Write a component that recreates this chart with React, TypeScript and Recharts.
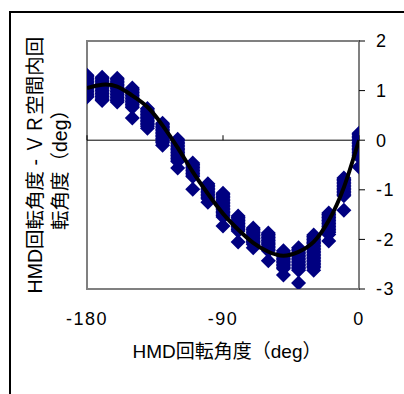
import React from "react";
import {
  ComposedChart,
  Scatter,
  Line,
  XAxis,
  YAxis,
  ReferenceArea,
  ReferenceLine,
} from "recharts";

// HMD rotation angle (deg) at which each batch of trials was measured
const clusterAngles = [
  -180, -170, -160, -150, -140, -130, -120, -110, -100, -90, -80, -70, -60,
  -50, -40, -30, -20, -10, 0,
];

// HMD rotation minus VR-space rotation (deg), one list per angle above
const clusterValues: number[][] = [
  [1.31, 1.28, 1.25, 1.22, 1.19, 1.16, 1.13, 1.1, 1.07, 1.04, 1.01, 0.98, 0.95, 0.92, 0.89, 0.87],
  [1.27, 1.24, 1.21, 1.18, 1.15, 1.12, 1.09, 1.06, 1.03, 1.0, 0.97, 0.94, 0.91, 0.88, 0.85, 0.82, 0.8],
  [1.25, 1.22, 1.19, 1.16, 1.13, 1.1, 1.07, 1.04, 1.01, 0.98, 0.95, 0.92, 0.89, 0.86, 0.83, 0.8, 0.77],
  [1.05, 1.02, 0.99, 0.96, 0.93, 0.9, 0.87, 0.84, 0.81, 0.78, 0.75, 0.72, 0.69, 0.66, 0.45],
  [0.64, 0.61, 0.58, 0.55, 0.52, 0.49, 0.46, 0.43, 0.4, 0.37, 0.34, 0.31, 0.28, 0.24],
  [0.34, 0.31, 0.28, 0.25, 0.22, 0.19, 0.16, 0.13, 0.1, 0.07, 0.04, 0.01, -0.02, -0.05, -0.1],
  [0.02, -0.01, -0.04, -0.07, -0.1, -0.13, -0.16, -0.19, -0.22, -0.25, -0.28, -0.31, -0.34, -0.37, -0.4, -0.43, -0.56],
  [-0.46, -0.49, -0.52, -0.55, -0.58, -0.61, -0.64, -0.67, -0.7, -0.73, -0.99],
  [-0.88, -0.91, -0.94, -0.97, -1.0, -1.03, -1.06, -1.09, -1.12, -1.15, -1.18, -1.25],
  [-1.07, -1.1, -1.13, -1.16, -1.19, -1.22, -1.25, -1.28, -1.31, -1.34, -1.37, -1.4, -1.43, -1.46, -1.49, -1.52, -1.55, -1.73],
  [-1.53, -1.56, -1.59, -1.62, -1.65, -1.68, -1.71, -1.74, -1.77, -1.8, -1.83, -2.05],
  [-1.77, -1.8, -1.83, -1.86, -1.89, -1.92, -1.95, -1.98, -2.01, -2.04, -2.07, -2.1, -2.17],
  [-1.87, -1.9, -1.93, -1.96, -1.99, -2.02, -2.05, -2.08, -2.11, -2.14, -2.17, -2.2, -2.23, -2.43],
  [-2.23, -2.26, -2.29, -2.32, -2.35, -2.38, -2.41, -2.44, -2.47, -2.5, -2.53, -2.56, -2.59, -2.72],
  [-2.17, -2.2, -2.23, -2.26, -2.29, -2.32, -2.35, -2.38, -2.41, -2.44, -2.47, -2.5, -2.53, -2.56, -2.59, -2.62, -2.88],
  [-1.91, -1.94, -1.97, -2.0, -2.03, -2.06, -2.09, -2.12, -2.15, -2.18, -2.21, -2.24, -2.27, -2.3, -2.33, -2.36, -2.39, -2.42, -2.45, -2.48, -2.51, -2.54, -2.57, -2.62],
  [-1.47, -1.5, -1.53, -1.56, -1.59, -1.62, -1.65, -1.68, -1.71, -1.74, -1.77, -1.8, -1.83, -1.86, -1.9, -2.03],
  [-0.76, -0.79, -0.82, -0.85, -0.88, -0.91, -0.94, -0.97, -1.0, -1.03, -1.06, -1.09, -1.12, -1.41],
  [0.14, 0.11, 0.08, 0.05, 0.02, -0.01, -0.04, -0.07, -0.1, -0.13, -0.16, -0.19, -0.22, -0.25, -0.28, -0.31, -0.34, -0.54],
];

// fitted curve
const fitAngles = [
  -180, -170, -160, -150, -140, -130, -120, -110, -100, -90, -80, -70, -60,
  -50, -40, -30, -20, -10, 0,
];
const fitValues = [
  1.05, 1.12, 1.08, 0.9, 0.67, 0.3, -0.15, -0.64, -1.08, -1.48, -1.8, -2.07,
  -2.25, -2.33, -2.25, -2.05, -1.62, -0.95, 0.0,
];

const xTicks = [-180, -90, 0];
const yTicks = [-3, -2, -1, 0, 1, 2];

const FONT = "'Liberation Sans', Arial, 'Noto Sans CJK JP', sans-serif";
const NAVY = "#000080";
const W = 404;
const H = 394;
const MARGIN = { top: 41, right: 0, bottom: 30, left: 87 };

const points = clusterAngles.flatMap((a, i) =>
  clusterValues[i].map((v) => ({ x: a, y: v }))
);
const fit = fitAngles.map((a, i) => ({ x: a, y: fitValues[i] }));

function Diamond(props: any) {
  const { cx, cy } = props;
  const r = 7.5;
  return (
    <path
      d={`M${cx},${cy - r}L${cx + r},${cy}L${cx},${cy + r}L${cx - r},${cy}Z`}
      fill={NAVY}
    />
  );
}

// same axes for both layers so the curve lines up with the points
function axes(visible: boolean) {
  const tickFill = visible ? "#000" : "transparent";
  return [
    <XAxis
      key="x"
      type="number"
      dataKey="x"
      domain={[-180, 0]}
      ticks={xTicks}
      axisLine={false}
      tickLine={false}
      tickSize={6}
      tickMargin={17}
      height={75}
      tick={{ fontSize: 18, fill: tickFill, fontFamily: FONT, letterSpacing: 1.5 }}
      allowDataOverflow
    />,
    <YAxis
      key="y"
      type="number"
      dataKey="y"
      orientation="right"
      domain={[-3, 2]}
      ticks={yTicks}
      width={45}
      axisLine={false}
      tickLine={visible ? { stroke: "#000" } : false}
      tickSize={6}
      tickMargin={11}
      tick={{
        fontSize: 18,
        fill: tickFill,
        fontFamily: FONT,
        textAnchor: "start",
        letterSpacing: 1.5,
      }}
      allowDataOverflow
    />,
  ];
}

const layer: React.CSSProperties = { position: "absolute", left: 0, top: 0 };

export default function App() {
  return (
    <div
      style={{
        position: "absolute",
        left: 0,
        top: 0,
        width: W,
        height: H,
        overflow: "hidden",
        background: "#fff",
        fontFamily: FONT,
      }}
    >
      <div
        style={{
          position: "absolute",
          left: 9,
          top: 11,
          width: 395,
          height: 383,
          boxSizing: "border-box",
          borderLeft: "2px solid #000",
          borderTop: "2px solid #000",
        }}
      />
      <div style={layer}>
        <ComposedChart width={W} height={H} margin={MARGIN}>
          {axes(true)}
          <ReferenceArea
            x1={-180}
            x2={0}
            y1={-3}
            y2={2}
            fill="none"
            fillOpacity={0}
            stroke="#808080"
            strokeWidth={2}
            ifOverflow="visible"
          />
          <ReferenceLine y={0} stroke="#000" strokeWidth={1} />
          {xTicks.map((t) => (
            <ReferenceLine
              key={t}
              segment={[
                { x: t, y: 0 },
                { x: t, y: 0.1 },
              ]}
              stroke="#000"
              strokeWidth={1}
            />
          ))}
          <Scatter
            data={points}
            dataKey="y"
            shape={<Diamond />}
            isAnimationActive={false}
          />
        </ComposedChart>
      </div>
      <div style={layer}>
        <ComposedChart width={W} height={H} margin={MARGIN}>
          {axes(false)}
          <Line
            data={fit}
            dataKey="y"
            type="natural"
            stroke="#000"
            strokeWidth={4}
            dot={false}
            activeDot={false}
            isAnimationActive={false}
          />
        </ComposedChart>
      </div>
      <div
        style={{
          position: "absolute",
          left: 227 - 150,
          top: 340,
          width: 300,
          textAlign: "center",
          fontSize: 19,
          lineHeight: "24px",
          color: "#000",
        }}
      >
        HMD回転角度（deg）
      </div>
      <div
        style={{
          position: "absolute",
          left: 47.5 - 150,
          top: 165 - 25,
          width: 300,
          height: 50,
          transform: "rotate(-90deg)",
          textAlign: "center",
          fontSize: 19.5,
          lineHeight: "25px",
          color: "#000",
          whiteSpace: "nowrap",
        }}
      >
        <div>HMD回転角度 - ＶＲ空間内回</div>
        <div>転角度（deg）</div>
      </div>
    </div>
  );
}
